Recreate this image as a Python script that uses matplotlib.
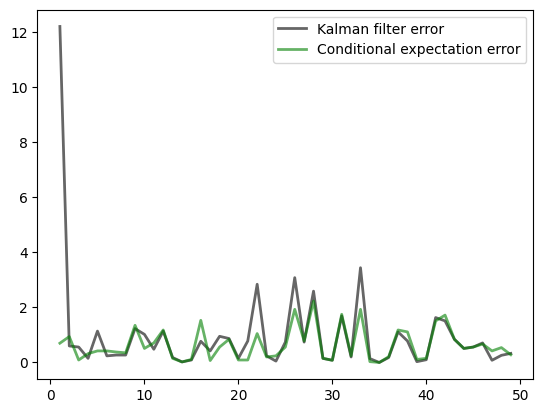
import matplotlib
matplotlib.use("Agg")
import matplotlib.pyplot as plt
import numpy as np

steps = list(range(1, 50))
kalman_error = [12.2, 0.60, 0.56, 0.15, 1.14, 0.24, 0.27, 0.27, 1.23, 1.02,
                0.48, 1.14, 0.18, 0.02, 0.09, 0.77, 0.42, 0.95, 0.87, 0.15,
                0.78, 2.84, 0.24, 0.05, 0.74, 3.08, 0.74, 2.59, 0.15, 0.08,
                1.69, 0.20, 3.44, 0.14, 0.00, 0.18, 1.11, 0.78, 0.03, 0.10,
                1.63, 1.51, 0.84, 0.51, 0.56, 0.71, 0.08, 0.26, 0.33]
cond_exp_error = [0.70, 0.94, 0.09, 0.32, 0.42, 0.42, 0.38, 0.35, 1.35, 0.51,
                  0.71, 1.18, 0.15, 0.02, 0.11, 1.53, 0.07, 0.56, 0.84, 0.09,
                  0.09, 1.05, 0.20, 0.24, 0.56, 1.93, 0.78, 2.23, 0.15, 0.08,
                  1.75, 0.24, 1.93, 0.03, 0.00, 0.21, 1.18, 1.11, 0.11, 0.15,
                  1.51, 1.72, 0.84, 0.51, 0.56, 0.67, 0.42, 0.54, 0.28]

fig, ax = plt.subplots(figsize=(6.4, 4.8), dpi=100)
ax.plot(steps, kalman_error, color='k', alpha=0.6, lw=2, label='Kalman filter error')
ax.plot(steps, cond_exp_error, color='g', alpha=0.6, lw=2, label='Conditional expectation error')
ax.legend(loc='upper right')
fig.savefig('out.png', dpi=100, bbox_inches='tight')
